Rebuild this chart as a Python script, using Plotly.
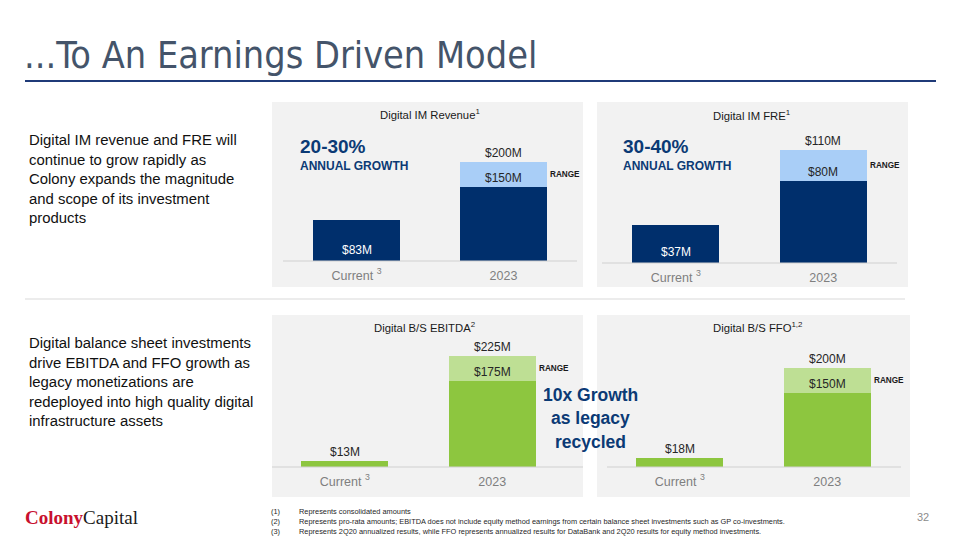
import plotly.graph_objects as go

W, H = 960, 540

# ---------------- data ----------------
categories = ["Current", "2023"]
tick_labels = ["Current <sup>3</sup>", "2023"]

panel_titles = ["Digital IM Revenue<sup>1</sup>", "Digital IM FRE<sup>1</sup>",
                "Digital B/S EBITDA<sup>2</sup>", "Digital B/S FFO<sup>1,2</sup>"]
base_values = [[83, 150], [37, 80], [13, 175], [18, 150]]      # current / 2023 low end
high_values = [200, 110, 225, 200]                              # 2023 high end
range_values = [h - b[1] for h, b in zip(high_values, base_values)]
growth_pct = ["20-30%", "30-40%"]

navy = "#002F6C"
light_blue = "#A9CEF7"
green = "#8DC63F"
light_green = "#BEDF94"
text_navy = "#0B3A75"

def px(x):
    return x / W

def py(y):
    return 1 - y / H

# panel layout (pixels): bg box, axis domain, baseline, top, px per unit
panels = [
    dict(bg=(272, 102, 583, 287), xd=(283, 577), base=261, top=102, scale=0.495,
         line=(283, 577), colors=(navy, light_blue), title=(430, 114)),
    dict(bg=(597, 102, 908, 287), xd=(602, 897), base=263, top=102, scale=1.03,
         line=(602, 897), colors=(navy, light_blue), title=(752, 115)),
    dict(bg=(272, 315, 583, 497), xd=(271, 566), base=467, top=315, scale=0.493,
         line=(272, 583), colors=(green, light_green), title=(424, 327)),
    dict(bg=(597, 315, 910, 497), xd=(606, 901), base=467, top=315, scale=0.495,
         line=(607, 901), colors=(green, light_green), title=(757, 327)),
]

fig = go.Figure()
shapes = []
annotations = []
layout_axes = {}
BODY = "Liberation Sans, Arial, sans-serif"
COND = "DejaVu Sans Condensed, Liberation Sans Narrow, sans-serif"

for i, p in enumerate(panels):
    n = "" if i == 0 else str(i + 1)
    xa, ya = "x" + n, "y" + n
    c_base, c_range = p["colors"]
    fig.add_trace(go.Bar(x=categories, y=base_values[i], xaxis=xa, yaxis=ya,
                         marker=dict(color=c_base, line=dict(width=0)), width=0.59,
                         hoverinfo="skip", showlegend=False))
    fig.add_trace(go.Bar(x=categories, y=[0, range_values[i]], xaxis=xa, yaxis=ya,
                         marker=dict(color=c_range, line=dict(width=0)), width=0.59,
                         hoverinfo="skip", showlegend=False))
    ymax = (p["base"] - p["top"]) / p["scale"]
    layout_axes["xaxis" + n] = dict(type="category", domain=[px(p["xd"][0]), px(p["xd"][1])],
                                    anchor=ya, range=[-0.5, 1.5], showgrid=False, zeroline=False,
                                    showline=False, ticks="", tickmode="array",
                                    tickvals=categories, ticktext=tick_labels,
                                    ticklabelstandoff=5,
                                    tickfont=dict(family=BODY, size=12.5, color="#7F7F7F"),
                                    fixedrange=True)
    layout_axes["yaxis" + n] = dict(domain=[py(p["base"]), py(p["top"])], anchor=xa,
                                    range=[0, ymax], showgrid=False, zeroline=False,
                                    showline=False, showticklabels=False, fixedrange=True)
    x0, y0, x1, y1 = p["bg"]
    shapes.append(dict(type="rect", xref="paper", yref="paper", x0=px(x0), x1=px(x1),
                       y0=py(y1), y1=py(y0), fillcolor="#F2F2F2", line=dict(width=0),
                       layer="below"))
    shapes.append(dict(type="line", xref="paper", yref="paper", x0=px(p["line"][0]),
                       x1=px(p["line"][1]), y0=py(p["base"]), y1=py(p["base"]),
                       line=dict(color="#D0D0D0", width=1), layer="above"))
    annotations.append(dict(xref="paper", yref="paper", x=px(p["title"][0]), y=py(p["title"][1]),
                            text=panel_titles[i], showarrow=False, xanchor="center",
                            yanchor="middle", font=dict(family=BODY, size=11.3, color="#1A1A1A")))
    # value labels (x given as category index)
    cur, low = base_values[i]
    high = high_values[i]
    if i < 2:
        annotations.append(dict(xref=xa, yref=ya, x=0, y=0, yanchor="bottom",
                                yshift=2, text=f"${cur}M", showarrow=False,
                                font=dict(family=BODY, size=12, color="white")))
    else:
        annotations.append(dict(xref=xa, yref=ya, x=0, y=cur, yanchor="bottom",
                                text=f"${cur}M", showarrow=False,
                                font=dict(family=BODY, size=12, color="#262626")))
    annotations.append(dict(xref=xa, yref=ya, x=1, y=low, yanchor="bottom",
                            text=f"${low}M", showarrow=False,
                            font=dict(family=BODY, size=12, color="#262626")))
    annotations.append(dict(xref=xa, yref=ya, x=1, y=high, yanchor="bottom",
                            text=f"${high}M", showarrow=False,
                            font=dict(family=BODY, size=12, color="#262626")))
    annotations.append(dict(xref=xa, yref=ya, x=1 + 0.295, y=(low + high) / 2,
                            xanchor="left", yanchor="middle", xshift=1,
                            text="<b>RANGE</b>", showarrow=False,
                            font=dict(family=BODY, size=8.2, color="#1A1A1A")))

# growth callouts in IM panels
for (gx, txt) in [(298, growth_pct[0]), (621, growth_pct[1])]:
    annotations.append(dict(xref="paper", yref="paper", x=px(gx), y=py(147), xanchor="left",
                            yanchor="middle", text=f"<b>{txt}</b>", showarrow=False,
                            font=dict(family=BODY, size=19, color=text_navy)))
    annotations.append(dict(xref="paper", yref="paper", x=px(gx), y=py(166), xanchor="left",
                            yanchor="middle", text="<b>ANNUAL GROWTH</b>", showarrow=False,
                            font=dict(family=BODY, size=12, color=text_navy)))

# 10x growth
for txt, yy in [("10x Growth", 395), ("as legacy", 418), ("recycled", 442)]:
    annotations.append(dict(xref="paper", yref="paper", x=px(590), y=py(yy), xanchor="center",
                            yanchor="middle", text=f"<b>{txt}</b>", showarrow=False,
                            font=dict(family=BODY, size=17.5, color=text_navy)))

# title
annotations.append(dict(xref="paper", yref="paper", x=px(22), y=py(55), xanchor="left",
                        yanchor="middle", text="...To An Earnings Driven Model", showarrow=False,
                        font=dict(family=COND, size=37.5, color="#44546A")))
shapes.append(dict(type="line", xref="paper", yref="paper", x0=px(25), x1=px(936),
                   y0=py(81), y1=py(81), line=dict(color="#1F3A78", width=2)))
shapes.append(dict(type="line", xref="paper", yref="paper", x0=px(25), x1=px(905),
                   y0=py(299), y1=py(299), line=dict(color="#D9D9D9", width=1)))

left1 = ["Digital IM revenue and FRE will", "continue to grow rapidly as",
         "Colony expands the magnitude", "and scope of its investment", "products"]
left2 = ["Digital balance sheet investments", "drive EBITDA and FFO growth as",
         "legacy monetizations are", "redeployed into high quality digital",
         "infrastructure assets"]
for lines, y0 in [(left1, 140), (left2, 343)]:
    for k, t in enumerate(lines):
        annotations.append(dict(xref="paper", yref="paper", x=px(27), y=py(y0 + k * 19.5),
                                xanchor="left", yanchor="middle", text=t, showarrow=False,
                                font=dict(family=BODY, size=14.9, color="#111111")))

# footnotes
notes = ["Represents consolidated amounts",
         "Represents pro-rata amounts; EBITDA does not include equity method earnings from certain balance sheet investments such as GP co-investments.",
         "Represents 2Q20 annualized results, while FFO represents annualized results for DataBank and 2Q20 results for equity method investments."]
for k, t in enumerate(notes):
    yy = 511 + k * 10
    annotations.append(dict(xref="paper", yref="paper", x=px(269), y=py(yy), xanchor="left",
                            yanchor="middle", text=f"({k+1})", showarrow=False,
                            font=dict(family=BODY, size=7.4, color="#262626")))
    annotations.append(dict(xref="paper", yref="paper", x=px(297), y=py(yy), xanchor="left",
                            yanchor="middle", text=t, showarrow=False,
                            font=dict(family=BODY, size=7.4, color="#262626")))

# logo + page number
annotations.append(dict(xref="paper", yref="paper", x=px(23), y=py(517), xanchor="left",
                        yanchor="middle",
                        text="<span style='color:#C8102E'><b>Colony</b></span><span style='color:#1A1A1A'>Capital</span>",
                        showarrow=False, font=dict(family="Liberation Serif, serif", size=19)))
annotations.append(dict(xref="paper", yref="paper", x=px(923), y=py(517), xanchor="center",
                        yanchor="middle", text="32", showarrow=False,
                        font=dict(family=BODY, size=11, color="#8C8C8C")))

fig.update_layout(width=W, height=H, margin=dict(l=0, r=0, t=0, b=0),
                  paper_bgcolor="white", plot_bgcolor="rgba(0,0,0,0)",
                  barmode="stack", bargap=0, shapes=shapes, annotations=annotations,
                  **layout_axes)

fig.write_html("out.html", config={"displayModeBar": False},
               post_script="document.body.style.margin='0';document.body.style.padding='0';document.body.style.overflow='hidden';")
